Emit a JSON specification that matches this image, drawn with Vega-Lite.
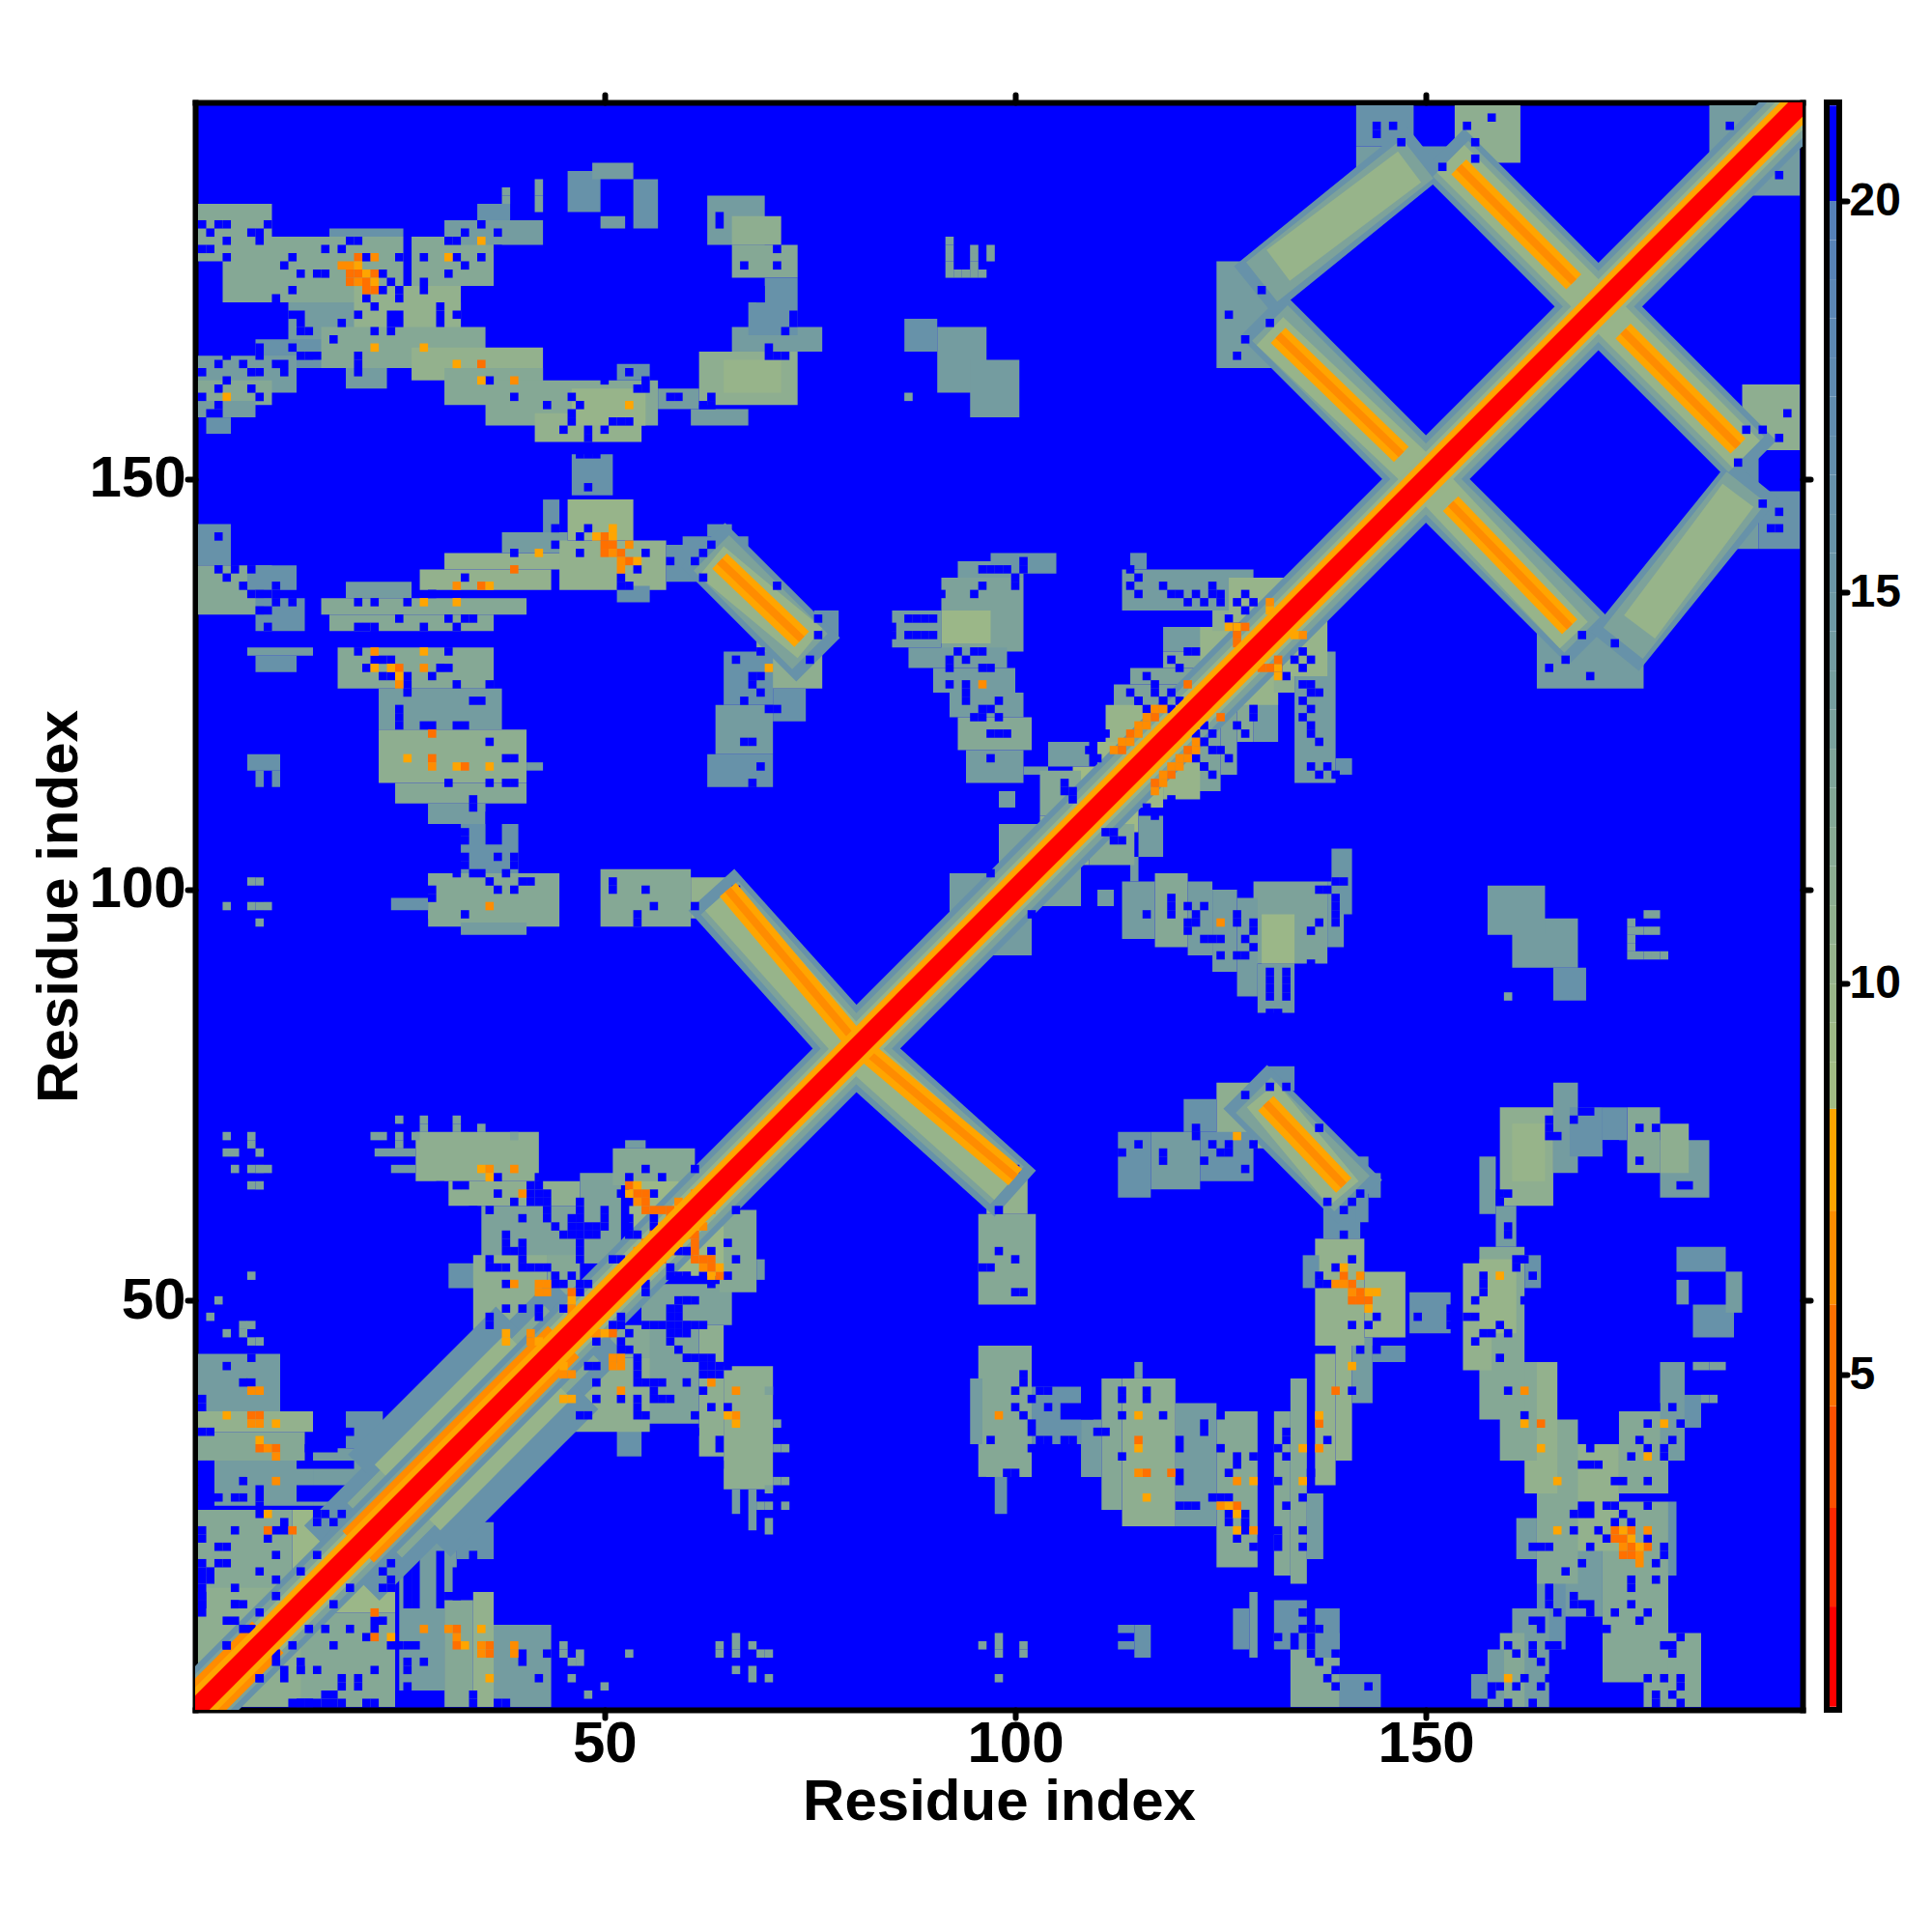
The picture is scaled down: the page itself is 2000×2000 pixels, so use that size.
{"$schema":"https://vega.github.io/schema/vega-lite/v6.json","padding":{"left":31,"top":95,"right":0,"bottom":0},"background":"white","spacing":11,
"config":{"axis":{"grid":false,"domainColor":"black","domainWidth":6,"domainCap":"square","tickColor":"black","tickWidth":6,"tickSize":8,"tickCap":"round","zindex":1,"labelFont":"Liberation Sans","labelFontWeight":"bold","labelFontSize":60,"labelColor":"black","titleFont":"Liberation Sans","titleFontWeight":"bold","titleFontSize":60,"titleColor":"black"}},
"datasets":{
"blocks":[
{"x":0.5,"x2":4.5,"y":139.5,"y2":144.5,"v":16},{"x":0.5,"x2":9.5,"y":133.5,"y2":139.5,"v":12},{"x":6.5,"x2":12.5,"y":136.5,"y2":139.5,"v":16},{"x":7.5,"x2":13.5,"y":131.5,"y2":135.5,"v":16},{"x":6.5,"x2":14.5,"y":128.5,"y2":129.5,"v":14},{"x":7.5,"x2":12.5,"y":126.5,"y2":128.5,"v":16},
{"x":18.5,"x2":26.5,"y":135.5,"y2":137.5,"v":14},{"x":15.5,"x2":40.5,"y":133.5,"y2":135.5,"v":12},{"x":16.5,"x2":36.5,"y":131.5,"y2":133.5,"v":12},{"x":27.5,"x2":43.5,"y":136.5,"y2":139,"v":10.5},{"x":30.5,"x2":50.5,"y":139,"y2":141,"v":10.5},{"x":37.5,"x2":45.5,"y":141,"y2":143.5,"v":14},{"x":42.5,"x2":44.5,"y":143.5,"y2":147.5,"v":16},{"x":45.5,"x2":53.5,"y":142.5,"y2":147.5,"v":10},{"x":44.5,"x2":57.5,"y":136.5,"y2":142.5,"v":10.5},{"x":51.5,"x2":55.5,"y":135,"y2":137,"v":16},{"x":57.5,"x2":63.5,"y":137.5,"y2":142,"v":16},{"x":59.5,"x2":67.5,"y":141.5,"y2":143,"v":16},{"x":62.5,"x2":65.5,"y":143,"y2":144.5,"v":16},
{"x":68.5,"x2":76.5,"y":124.5,"y2":131,"v":11},{"x":64.5,"x2":70.5,"y":122.5,"y2":129,"v":16},{"x":70.5,"x2":74.5,"y":120.5,"y2":124.5,"v":16},{"x":63.5,"x2":70.5,"y":116.5,"y2":122.5,"v":14},{"x":62.5,"x2":70.5,"y":112.5,"y2":116.5,"v":16},{"x":75.5,"x2":78.5,"y":130.5,"y2":134,"v":16},
{"x":17.5,"x2":36.5,"y":124.5,"y2":129.5,"v":12},{"x":22.5,"x2":37.5,"y":119.5,"y2":124.5,"v":14},{"x":22.5,"x2":40.5,"y":113,"y2":119.5,"v":11},{"x":40.5,"x2":42.5,"y":114.5,"y2":115.5,"v":14},{"x":24.5,"x2":40.5,"y":110.5,"y2":113,"v":12},{"x":28.5,"x2":35.5,"y":108,"y2":110.5,"v":14},{"x":32.5,"x2":39.5,"y":101.5,"y2":108,"v":16},{"x":28.5,"x2":44.5,"y":95.5,"y2":102,"v":12},{"x":32.5,"x2":40.5,"y":94.5,"y2":96,"v":14},{"x":24,"x2":28.5,"y":97.5,"y2":99,"v":16},{"x":49.5,"x2":60.5,"y":95.5,"y2":102.5,"v":12},{"x":60.5,"x2":65,"y":96.5,"y2":101.5,"v":10.5},
{"x":6.5,"x2":10.5,"y":114.5,"y2":116.5,"v":16},{"x":7.5,"x2":8.5,"y":112.5,"y2":114.5,"v":16},{"x":9.5,"x2":10.5,"y":112.5,"y2":114.5,"v":16},
{"x":0.5,"x2":9.5,"y":179.5,"y2":183.5,"v":12},{"x":0.5,"x2":12.5,"y":176.5,"y2":179.5,"v":12},{"x":3.5,"x2":25.5,"y":171.5,"y2":179.5,"v":12},{"x":16.5,"x2":25.5,"y":179.5,"y2":180.5,"v":16},{"x":26.5,"x2":36.5,"y":173.5,"y2":179.5,"v":12},{"x":30.5,"x2":42.5,"y":178.5,"y2":181.5,"v":14},{"x":11.5,"x2":32.5,"y":166,"y2":171.5,"v":14},{"x":19.5,"x2":32.5,"y":166,"y2":173.5,"v":10.5},{"x":7.5,"x2":17.5,"y":163.5,"y2":167,"v":16},{"x":15.5,"x2":35.5,"y":163.5,"y2":168.5,"v":12},{"x":0.5,"x2":12.5,"y":160.5,"y2":165,"v":14},{"x":0.5,"x2":9.5,"y":159,"y2":162,"v":12},{"x":0.5,"x2":7.5,"y":157.5,"y2":159.5,"v":14},{"x":1.5,"x2":4.5,"y":155.5,"y2":157.5,"v":16},{"x":18.5,"x2":23.5,"y":161,"y2":163.5,"v":14},{"x":26.5,"x2":42.5,"y":162,"y2":166,"v":10.5},{"x":30.5,"x2":42.5,"y":159,"y2":163.5,"v":12},{"x":35.5,"x2":56.5,"y":156.5,"y2":162,"v":12},{"x":41.5,"x2":54.5,"y":154.5,"y2":158,"v":10.5},{"x":46,"x2":55,"y":156.5,"y2":161,"v":10},{"x":51.5,"x2":55.5,"y":162,"y2":164,"v":16},{"x":56.5,"x2":61.5,"y":158.5,"y2":161,"v":14},{"x":60.5,"x2":67.5,"y":156.5,"y2":158.5,"v":14},{"x":61.5,"x2":73.5,"y":159,"y2":165.5,"v":11},{"x":64.5,"x2":71.5,"y":160.5,"y2":164.5,"v":10},{"x":65.5,"x2":76.5,"y":165.5,"y2":168.5,"v":14},{"x":67.5,"x2":73.5,"y":167.5,"y2":171.5,"v":16},{"x":65.5,"x2":73.5,"y":174.5,"y2":178.5,"v":12},{"x":69.5,"x2":73.5,"y":171.5,"y2":174.5,"v":16},{"x":62.5,"x2":69.5,"y":178.5,"y2":184.5,"v":14},{"x":65.5,"x2":71.5,"y":178.5,"y2":182,"v":11},
{"x":45.5,"x2":49.5,"y":182.5,"y2":187.5,"v":16},{"x":48.5,"x2":53.5,"y":186.5,"y2":188.5,"v":14},{"x":53.5,"x2":56.5,"y":180.5,"y2":186.5,"v":16},{"x":49.5,"x2":52.5,"y":180.5,"y2":182,"v":14},{"x":46,"x2":51,"y":148,"y2":153,"v":16},{"x":34.5,"x2":38.5,"y":181.5,"y2":183.5,"v":16},
{"x":86.5,"x2":90.5,"y":165.5,"y2":169.5,"v":16},{"x":90.5,"x2":96.5,"y":160.5,"y2":168.5,"v":14},{"x":94.5,"x2":100.5,"y":157.5,"y2":164.5,"v":14},
{"x":91,"x2":101,"y":129,"y2":138,"v":13},{"x":91,"x2":97,"y":130,"y2":134,"v":9.5},{"x":85,"x2":91,"y":129.5,"y2":134,"v":14},{"x":93,"x2":101,"y":138,"y2":140,"v":14},{"x":97,"x2":105,"y":138.5,"y2":141,"v":15},{"x":87,"x2":99,"y":127,"y2":129.5,"v":14},{"x":90,"x2":100,"y":124,"y2":127,"v":14},{"x":92,"x2":101,"y":121,"y2":124,"v":14},{"x":93,"x2":102,"y":117,"y2":121,"v":12},{"x":94,"x2":101,"y":113,"y2":117,"v":14},{"x":101,"x2":104,"y":114,"y2":115,"v":14},
{"x":112,"x2":120,"y":122,"y2":125,"v":13},{"x":111,"x2":118,"y":118,"y2":122.5,"v":10},{"x":110,"x2":115,"y":115,"y2":118,"v":9.5},{"x":107,"x2":112,"y":111,"y2":115,"v":9},{"x":103,"x2":108,"y":109,"y2":114.5,"v":12},{"x":104,"x2":109,"y":115,"y2":118,"v":14},{"x":103,"x2":107,"y":106,"y2":109,"v":11},{"x":98,"x2":103,"y":102,"y2":108,"v":13},{"x":98,"x2":100,"y":110,"y2":112,"v":14},{"x":92,"x2":99,"y":97,"y2":102,"v":14},
{"x":118,"x2":126,"y":129,"y2":132,"v":14},{"x":114,"x2":124,"y":125,"y2":127,"v":13},{"x":118,"x2":126,"y":127,"y2":129,"v":12},{"x":122.5,"x2":127,"y":126,"y2":132,"v":10},{"x":113,"x2":129,"y":134,"y2":139,"v":14},{"x":124,"x2":131,"y":131.5,"y2":134,"v":11},{"x":126,"x2":134,"y":132,"y2":138,"v":10},{"x":114,"x2":116,"y":139,"y2":141,"v":16},
{"x":124.5,"x2":132.5,"y":163.5,"y2":176.5,"v":14},{"x":141.5,"x2":148.5,"y":190.5,"y2":195.5,"v":16},{"x":141.5,"x2":149.5,"y":186.5,"y2":190.5,"v":14},{"x":148.5,"x2":153.5,"y":186.5,"y2":190.5,"v":16},{"x":153.5,"x2":161.5,"y":188.5,"y2":195.5,"v":11},{"x":184.5,"x2":195.5,"y":186,"y2":195.5,"v":14},
{"x":0.5,"x2":10.5,"y":36,"y2":43.5,"v":14},{"x":0.5,"x2":14.5,"y":34,"y2":36.5,"v":10.5},{"x":0.5,"x2":13.5,"y":30.5,"y2":34,"v":12},{"x":2.5,"x2":14.5,"y":25,"y2":30.5,"v":14},{"x":14.5,"x2":23,"y":25,"y2":32,"v":14},{"x":0.5,"x2":12,"y":13,"y2":24.5,"v":12},{"x":12,"x2":20,"y":17,"y2":24.5,"v":9.5},{"x":18.5,"x2":23,"y":32,"y2":36.5,"v":16},{"x":0.5,"x2":15,"y":0.5,"y2":13,"v":11},
{"x":27,"x2":42,"y":64.5,"y2":70.5,"v":11},{"x":22,"x2":27,"y":67.5,"y2":68.5,"v":14},{"x":24,"x2":27,"y":65.5,"y2":66.5,"v":14},{"x":31,"x2":47,"y":61.5,"y2":64.5,"v":11},{"x":35,"x2":51,"y":54.5,"y2":61.5,"v":13},{"x":47,"x2":52,"y":54.5,"y2":65.5,"v":13},{"x":51,"x2":61,"y":64,"y2":68.5,"v":12},{"x":52.5,"x2":55,"y":68.5,"y2":69.5,"v":14},{"x":53,"x2":59,"y":56,"y2":64.5,"v":9.5},{"x":31,"x2":35,"y":51.5,"y2":54.5,"v":16},{"x":34,"x2":43,"y":43.5,"y2":55.5,"v":11},{"x":43,"x2":47,"y":43,"y2":55.5,"v":12},
{"x":12.5,"x2":19.5,"y":29.5,"y2":30.5,"v":21},{"x":13.5,"x2":17.5,"y":31.5,"y2":32.5,"v":21},{"x":12.5,"x2":19.5,"y":26.5,"y2":27.5,"v":21},{"x":12.5,"x2":17.5,"y":25.5,"y2":26.5,"v":21},{"x":35.5,"x2":37.5,"y":105.5,"y2":109.5,"v":21}],
"cells":[
{"x":7,"y":43,"v":21},{"x":4,"y":42,"v":21},{"x":6,"y":40,"v":21},{"x":7,"y":40,"v":21},{"x":1,"y":37,"v":21},{"x":1,"y":38,"v":21},{"x":1,"y":34,"v":21},{"x":2,"y":34,"v":21},{"x":18,"y":34,"v":21},{"x":19,"y":34,"v":21},{"x":1,"y":30,"v":21},{"x":2,"y":30,"v":21},{"x":1,"y":29,"v":21},{"x":1,"y":28,"v":21},{"x":1,"y":27,"v":21},{"x":6,"y":28,"v":21},{"x":1,"y":26,"v":21},{"x":2,"y":26,"v":21},{"x":3,"y":26,"v":21},{"x":1,"y":25,"v":21},{"x":2,"y":25,"v":21},{"x":5,"y":26,"v":21},{"x":6,"y":26,"v":21},{"x":8,"y":24,"v":21},{"x":8,"y":25,"v":21},{"x":8,"y":26,"v":21},{"x":8,"y":27,"v":21},{"x":15,"y":24,"v":21},{"x":16,"y":24,"v":21},{"x":18,"y":24,"v":21},{"x":1,"y":21,"v":21},{"x":1,"y":22,"v":21},{"x":5,"y":22,"v":21},{"x":9,"y":21,"v":21},{"x":10,"y":22,"v":21},{"x":11,"y":22,"v":21},{"x":11,"y":23,"v":21},{"x":15,"y":23,"v":21},{"x":17,"y":23,"v":21},{"x":3,"y":20,"v":21},{"x":4,"y":20,"v":21},{"x":10,"y":19,"v":21},{"x":15,"y":19,"v":21},{"x":1,"y":18,"v":21},{"x":1,"y":17,"v":21},{"x":2,"y":17,"v":21},{"x":8,"y":17,"v":21},{"x":10,"y":16,"v":21},{"x":13,"y":17,"v":21},{"x":1,"y":15,"v":21},{"x":1,"y":14,"v":21},{"x":1,"y":13,"v":21},{"x":5,"y":15,"v":21},{"x":5,"y":13,"v":21},{"x":6,"y":13,"v":21},
{"x":11,"y":5,"v":21},{"x":11,"y":4,"v":21},{"x":13,"y":5,"v":21},{"x":18,"y":3,"v":21},{"x":18,"y":4,"v":21},{"x":16,"y":1,"v":21},{"x":16,"y":2,"v":21},{"x":12,"y":1,"v":21},{"x":13,"y":1,"v":21},{"x":14,"y":1,"v":21},{"x":8,"y":4,"v":21},{"x":14,"y":10,"v":21},{"x":12,"y":8,"v":21},{"x":10,"y":6,"v":21},{"x":7,"y":10,"v":21},{"x":4,"y":8,"v":21},
{"x":3,"y":143,"v":21},{"x":3,"y":139,"v":21},{"x":5,"y":139,"v":21},{"x":7,"y":139,"v":21},{"x":4,"y":138,"v":21},{"x":6,"y":137,"v":21},{"x":7,"y":136,"v":21},{"x":8,"y":136,"v":21},{"x":9,"y":136,"v":21},{"x":10,"y":137,"v":21},{"x":10,"y":135,"v":21},{"x":12,"y":135,"v":21},{"x":8,"y":134,"v":21},{"x":9,"y":134,"v":21},{"x":9,"y":132,"v":21},
{"x":20,"y":135,"v":21},{"x":22,"y":135,"v":21},{"x":26,"y":135,"v":21},{"x":29,"y":136,"v":21},{"x":22,"y":132,"v":21},{"x":22,"y":131,"v":21},{"x":21,"y":132,"v":21},{"x":20,"y":132,"v":21},{"x":25,"y":133,"v":21},{"x":28,"y":132,"v":21},{"x":31,"y":133,"v":21},{"x":33,"y":133,"v":21},{"x":34,"y":133,"v":21},{"x":32,"y":132,"v":21},{"x":33,"y":138,"v":21},{"x":39,"y":141,"v":21},{"x":44,"y":144,"v":21},{"x":44,"y":142,"v":21},{"x":47,"y":143,"v":21},{"x":48,"y":144,"v":21},{"x":47,"y":141,"v":21},{"x":55,"y":141,"v":21},{"x":58,"y":140,"v":21},{"x":61,"y":140,"v":21},{"x":62,"y":138,"v":21},{"x":63,"y":142,"v":21},{"x":62,"y":141,"v":21},{"x":54,"y":139,"v":21},{"x":52,"y":138,"v":21},{"x":52,"y":137,"v":21},{"x":53,"y":137,"v":21},
{"x":20,"y":129,"v":21},{"x":20,"y":130,"v":21},{"x":21,"y":130,"v":21},{"x":31,"y":129,"v":21},{"x":22,"y":128,"v":21},{"x":23,"y":128,"v":21},{"x":24,"y":128,"v":21},{"x":21,"y":127,"v":21},{"x":30,"y":127,"v":21},{"x":31,"y":127,"v":21},{"x":23,"y":126,"v":21},{"x":24,"y":126,"v":21},{"x":26,"y":125,"v":21},{"x":26,"y":126,"v":21},{"x":26,"y":124,"v":21},{"x":29,"y":126,"v":21},{"x":32,"y":125,"v":21},{"x":36,"y":125,"v":21},{"x":25,"y":122,"v":21},{"x":25,"y":121,"v":21},{"x":25,"y":120,"v":21},{"x":29,"y":120,"v":21},{"x":28,"y":120,"v":21},{"x":32,"y":120,"v":21},{"x":33,"y":120,"v":21},{"x":34,"y":123,"v":21},{"x":35,"y":123,"v":21},{"x":36,"y":118,"v":21},{"x":38,"y":116,"v":21},{"x":39,"y":116,"v":21},{"x":31,"y":113,"v":21},{"x":36,"y":113,"v":21},{"x":38,"y":113,"v":21},{"x":39,"y":113,"v":21},{"x":34,"y":111,"v":21},{"x":34,"y":110,"v":21},
{"x":33,"y":107,"v":21},{"x":33,"y":106,"v":21},{"x":33,"y":104,"v":21},{"x":33,"y":103,"v":21},{"x":37,"y":104,"v":21},{"x":39,"y":104,"v":21},{"x":39,"y":103,"v":21},{"x":32,"y":102,"v":21},{"x":34,"y":102,"v":21},{"x":35,"y":102,"v":21},{"x":38,"y":102,"v":21},{"x":36,"y":101,"v":21},{"x":41,"y":101,"v":21},{"x":40,"y":101,"v":21},{"x":37,"y":100,"v":21},{"x":39,"y":100,"v":21},{"x":29,"y":100,"v":21},{"x":29,"y":99,"v":21},{"x":33,"y":97,"v":21},{"x":28,"y":96,"v":21},{"x":51,"y":101,"v":21},{"x":51,"y":100,"v":21},{"x":55,"y":100,"v":21},{"x":56,"y":98,"v":21},{"x":54,"y":97,"v":21},{"x":54,"y":96,"v":21},{"x":61,"y":98,"v":21},{"x":66,"y":100,"v":21},
{"x":71,"y":137,"v":21},{"x":69,"y":129,"v":21},{"x":66,"y":128,"v":21},{"x":75,"y":128,"v":21},{"x":76,"y":133,"v":21},{"x":76,"y":131,"v":21},{"x":68,"y":126,"v":21},{"x":68,"y":125,"v":21},{"x":69,"y":126,"v":21},{"x":69,"y":124,"v":21},{"x":67,"y":123,"v":21},{"x":70,"y":122,"v":21},{"x":71,"y":122,"v":21},{"x":68,"y":118,"v":21},{"x":67,"y":118,"v":21},{"x":68,"y":113,"v":21},{"x":68,"y":112,"v":21},{"x":69,"y":115,"v":21},
{"x":1,"y":181,"v":21},{"x":3,"y":181,"v":21},{"x":4,"y":181,"v":21},{"x":2,"y":180,"v":21},{"x":4,"y":179,"v":21},{"x":7,"y":180,"v":21},{"x":8,"y":180,"v":21},{"x":8,"y":179,"v":21},{"x":9,"y":181,"v":21},{"x":1,"y":178,"v":21},{"x":2,"y":178,"v":21},{"x":4,"y":177,"v":21},{"x":11,"y":176,"v":21},{"x":12,"y":177,"v":21},{"x":13,"y":175,"v":21},{"x":15,"y":175,"v":21},{"x":16,"y":175,"v":21},{"x":16,"y":178,"v":21},{"x":18,"y":178,"v":21},{"x":20,"y":179,"v":21},{"x":19,"y":179,"v":21},{"x":21,"y":177,"v":21},{"x":23,"y":175,"v":21},{"x":25,"y":177,"v":21},{"x":28,"y":177,"v":21},{"x":32,"y":177,"v":21},{"x":33,"y":176,"v":21},{"x":35,"y":177,"v":21},{"x":31,"y":175,"v":21},{"x":32,"y":179,"v":21},{"x":31,"y":179,"v":21},{"x":33,"y":180,"v":21},{"x":35,"y":181,"v":21},{"x":37,"y":180,"v":21},{"x":37,"y":178,"v":21},
{"x":12,"y":173,"v":21},{"x":10,"y":172,"v":21},{"x":21,"y":172,"v":21},{"x":22,"y":171,"v":21},{"x":24,"y":174,"v":21},{"x":23,"y":173,"v":21},{"x":25,"y":173,"v":21},{"x":25,"y":172,"v":21},{"x":28,"y":174,"v":21},{"x":28,"y":173,"v":21},{"x":30,"y":171,"v":21},{"x":30,"y":170,"v":21},{"x":30,"y":169,"v":21},{"x":32,"y":170,"v":21},{"x":12,"y":170,"v":21},{"x":13,"y":170,"v":21},{"x":13,"y":169,"v":21},{"x":20,"y":170,"v":21},{"x":18,"y":169,"v":21},{"x":24,"y":170,"v":21},{"x":25,"y":170,"v":21},{"x":24,"y":169,"v":21},{"x":25,"y":169,"v":21},{"x":24,"y":168,"v":21},{"x":13,"y":168,"v":21},{"x":14,"y":168,"v":21},{"x":22,"y":168,"v":21},{"x":17,"y":167,"v":21},{"x":12,"y":166,"v":21},{"x":8,"y":165,"v":21},{"x":8,"y":166,"v":21},{"x":13,"y":165,"v":21},{"x":14,"y":165,"v":21},{"x":15,"y":165,"v":21},{"x":20,"y":165,"v":21},{"x":20,"y":164,"v":21},{"x":20,"y":163,"v":21},{"x":3,"y":164,"v":21},{"x":6,"y":164,"v":21},{"x":10,"y":164,"v":21},{"x":11,"y":164,"v":21},{"x":4,"y":165,"v":21},{"x":7,"y":163,"v":21},{"x":8,"y":163,"v":21},{"x":11,"y":163,"v":21},{"x":1,"y":163,"v":21},{"x":4,"y":162,"v":21},{"x":3,"y":161,"v":21},{"x":7,"y":161,"v":21},{"x":1,"y":160,"v":21},{"x":8,"y":160,"v":21},{"x":2,"y":158,"v":21},{"x":3,"y":158,"v":21},{"x":3,"y":159,"v":21},
{"x":36,"y":162,"v":21},{"x":39,"y":160,"v":21},{"x":43,"y":159,"v":21},{"x":46,"y":160,"v":21},{"x":47,"y":159,"v":21},{"x":46,"y":158,"v":21},{"x":46,"y":157,"v":21},{"x":52,"y":157,"v":21},{"x":51,"y":157,"v":21},{"x":53,"y":157,"v":21},{"x":48,"y":156,"v":21},{"x":48,"y":155,"v":21},{"x":50,"y":156,"v":21},{"x":45,"y":156,"v":21},{"x":50,"y":162,"v":21},{"x":53,"y":163,"v":21},{"x":55,"y":162,"v":21},{"x":55,"y":161,"v":21},{"x":54,"y":161,"v":21},{"x":59,"y":160,"v":21},{"x":58,"y":160,"v":21},{"x":63,"y":160,"v":21},{"x":62,"y":159,"v":21},{"x":63,"y":159,"v":21},{"x":64,"y":181,"v":21},{"x":64,"y":182,"v":21},{"x":67,"y":176,"v":21},{"x":71,"y":176,"v":21},{"x":71,"y":178,"v":21},{"x":69,"y":173,"v":21},{"x":69,"y":172,"v":21},{"x":73,"y":170,"v":21},{"x":73,"y":169,"v":21},{"x":72,"y":168,"v":21},{"x":70,"y":166,"v":21},{"x":70,"y":165,"v":21},{"x":71,"y":165,"v":21},{"x":72,"y":165,"v":21},{"x":48,"y":153,"v":21},{"x":47,"y":153,"v":21},{"x":49,"y":153,"v":21},{"x":48,"y":149,"v":21},
{"x":37,"y":65,"v":21},{"x":42,"y":65,"v":21},{"x":41,"y":64,"v":21},{"x":42,"y":64,"v":21},{"x":41,"y":63,"v":21},{"x":42,"y":63,"v":21},{"x":43,"y":63,"v":21},{"x":41,"y":62,"v":21},{"x":42,"y":62,"v":21},{"x":43,"y":62,"v":21},{"x":43,"y":61,"v":21},{"x":43,"y":60,"v":21},{"x":32,"y":64,"v":21},{"x":33,"y":64,"v":21},{"x":30,"y":64,"v":21},{"x":37,"y":63,"v":21},{"x":39,"y":62,"v":21},{"x":34,"y":61,"v":21},{"x":36,"y":61,"v":21},{"x":40,"y":60,"v":21},{"x":44,"y":59,"v":21},{"x":38,"y":57,"v":21},{"x":38,"y":58,"v":21},{"x":38,"y":56,"v":21},{"x":40,"y":57,"v":21},{"x":39,"y":56,"v":21},{"x":40,"y":56,"v":21},{"x":47,"y":61,"v":21},{"x":47,"y":62,"v":21},{"x":47,"y":60,"v":21},{"x":46,"y":60,"v":21},{"x":47,"y":59,"v":21},{"x":46,"y":59,"v":21},{"x":47,"y":58,"v":21},{"x":46,"y":58,"v":21},{"x":48,"y":59,"v":21},{"x":49,"y":59,"v":21},{"x":47,"y":57,"v":21},{"x":48,"y":58,"v":21},{"x":45,"y":58,"v":21},{"x":49,"y":58,"v":21},{"x":47,"y":56,"v":21},{"x":47,"y":55,"v":21},{"x":50,"y":61,"v":21},{"x":50,"y":60,"v":21},{"x":50,"y":59,"v":21},{"x":36,"y":55,"v":21},{"x":36,"y":54,"v":21},{"x":37,"y":54,"v":21},{"x":38,"y":54,"v":21},{"x":40,"y":55,"v":21},{"x":40,"y":54,"v":21},{"x":41,"y":54,"v":21},{"x":42,"y":54,"v":21},{"x":43,"y":54,"v":21},{"x":44,"y":53,"v":21},{"x":44,"y":52,"v":21},{"x":45,"y":52,"v":21},{"x":46,"y":53,"v":21},{"x":47,"y":52,"v":21},{"x":47,"y":51,"v":21},{"x":48,"y":52,"v":21},{"x":38,"y":52,"v":21},{"x":51,"y":55,"v":21},{"x":52,"y":55,"v":21},{"x":53,"y":65,"v":21},{"x":55,"y":66,"v":21},{"x":57,"y":65,"v":21},{"x":61,"y":66,"v":21},{"x":52,"y":63,"v":21},{"x":56,"y":63,"v":21},{"x":53,"y":62,"v":21},{"x":56,"y":60,"v":21},{"x":56,"y":59,"v":21},{"x":53,"y":60,"v":21},{"x":53,"y":59,"v":21},{"x":54,"y":58,"v":21},{"x":53,"y":58,"v":21},{"x":38,"y":49,"v":21},{"x":40,"y":49,"v":21},{"x":42,"y":49,"v":21},{"x":42,"y":48,"v":21},{"x":45,"y":49,"v":21},{"x":36,"y":48,"v":21},{"x":36,"y":47,"v":21},
{"x":91,"y":136,"v":21},{"x":95,"y":136,"v":21},{"x":96,"y":137,"v":21},{"x":100,"y":138,"v":21},{"x":100,"y":137,"v":21},{"x":101,"y":140,"v":21},{"x":101,"y":139,"v":21},{"x":96,"y":139,"v":21},{"x":97,"y":139,"v":21},{"x":98,"y":139,"v":21},{"x":99,"y":139,"v":21},{"x":87,"y":133,"v":21},{"x":88,"y":133,"v":21},{"x":89,"y":133,"v":21},{"x":90,"y":133,"v":21},{"x":87,"y":131,"v":21},{"x":88,"y":131,"v":21},{"x":89,"y":131,"v":21},{"x":90,"y":131,"v":21},{"x":85,"y":132,"v":21},{"x":85,"y":131,"v":21},{"x":93,"y":129,"v":21},{"x":94,"y":128,"v":21},{"x":95,"y":129,"v":21},{"x":96,"y":129,"v":21},{"x":92,"y":128,"v":21},{"x":92,"y":127,"v":21},{"x":96,"y":127,"v":21},{"x":97,"y":127,"v":21},{"x":92,"y":125,"v":21},{"x":94,"y":125,"v":21},{"x":94,"y":124,"v":21},{"x":94,"y":123,"v":21},{"x":98,"y":123,"v":21},{"x":96,"y":122,"v":21},{"x":97,"y":122,"v":21},{"x":95,"y":121,"v":21},{"x":96,"y":121,"v":21},{"x":98,"y":121,"v":21},{"x":97,"y":119,"v":21},{"x":98,"y":119,"v":21},{"x":99,"y":119,"v":21},{"x":97,"y":116,"v":21},
{"x":114,"y":124,"v":21},{"x":115,"y":123,"v":21},{"x":117,"y":124,"v":21},{"x":119,"y":124,"v":21},{"x":118,"y":123,"v":21},{"x":110,"y":120,"v":21},{"x":109,"y":117,"v":21},{"x":116,"y":126,"v":21},{"x":119,"y":128,"v":21},{"x":106,"y":113,"v":21},{"x":106,"y":112,"v":21},{"x":116,"y":110,"v":21},{"x":119,"y":111,"v":21},{"x":112,"y":107,"v":21},{"x":111,"y":107,"v":21},{"x":97,"y":102,"v":21},{"x":114,"y":139,"v":21},{"x":114,"y":137,"v":21},{"x":118,"y":137,"v":21},{"x":120,"y":136,"v":21},{"x":122,"y":136,"v":21},{"x":124,"y":137,"v":21},{"x":124,"y":136,"v":21},{"x":128,"y":136,"v":21},{"x":127,"y":135,"v":21},{"x":126,"y":133,"v":21},{"x":127,"y":132,"v":21},{"x":128,"y":134,"v":21},{"x":129,"y":135,"v":21},{"x":125,"y":135,"v":21},{"x":125,"y":136,"v":21},{"x":123,"y":135,"v":21},{"x":121,"y":135,"v":21},{"x":119,"y":136,"v":21},{"x":115,"y":136,"v":21},{"x":115,"y":138,"v":21},{"x":122,"y":129,"v":21},{"x":121,"y":129,"v":21},{"x":120,"y":127,"v":21},{"x":120,"y":123,"v":21},{"x":119,"y":122,"v":21},{"x":118,"y":123,"v":21},{"x":117,"y":125,"v":21},{"x":116,"y":122,"v":21},{"x":115,"y":123,"v":21},
{"x":126,"y":170,"v":21},{"x":128,"y":167,"v":21},{"x":130,"y":173,"v":21},{"x":127,"y":165,"v":21},{"x":131,"y":169,"v":21},{"x":144,"y":193,"v":21},{"x":144,"y":192,"v":21},{"x":147,"y":191,"v":21},{"x":146,"y":193,"v":21},{"x":155,"y":193,"v":21},{"x":158,"y":194,"v":21},{"x":156,"y":191,"v":21},{"x":156,"y":189,"v":21},{"x":152,"y":188,"v":21},{"x":190,"y":189,"v":21},{"x":193,"y":187,"v":21},
{"x":25,"y":72,"v":13},{"x":28,"y":72,"v":13},{"x":28,"y":71,"v":13},{"x":32,"y":72,"v":13},{"x":32,"y":71,"v":13},{"x":35,"y":71,"v":13},{"x":39,"y":70,"v":13},{"x":22,"y":70,"v":13},{"x":23,"y":70,"v":13},{"x":25,"y":70,"v":13},{"x":25,"y":69,"v":13},{"x":27,"y":70,"v":13},
{"x":87,"y":160,"v":13},{"x":92,"y":175,"v":13},{"x":92,"y":176,"v":13},{"x":92,"y":177,"v":13},{"x":92,"y":178,"v":13},{"x":92,"y":179,"v":13},{"x":93,"y":175,"v":13},{"x":94,"y":175,"v":13},{"x":95,"y":175,"v":13},{"x":96,"y":175,"v":13},{"x":95,"y":177,"v":13},{"x":95,"y":178,"v":13},{"x":95,"y":176,"v":13},{"x":97,"y":178,"v":13},{"x":97,"y":177,"v":13},
{"x":4,"y":68,"v":13},{"x":5,"y":68,"v":13},{"x":7,"y":69,"v":13},{"x":8,"y":68,"v":13},{"x":7,"y":66,"v":13},{"x":8,"y":66,"v":13},{"x":9,"y":66,"v":13},{"x":7,"y":64,"v":13},{"x":8,"y":64,"v":13},{"x":4,"y":70,"v":13},{"x":7,"y":70,"v":13},{"x":5,"y":66,"v":13},{"x":7,"y":101,"v":13},{"x":8,"y":101,"v":13},{"x":7,"y":98,"v":13},{"x":8,"y":98,"v":13},{"x":9,"y":98,"v":13},{"x":8,"y":96,"v":13},{"x":4,"y":98,"v":13},{"x":7,"y":53,"v":13},{"x":3,"y":50,"v":13},{"x":2,"y":48,"v":13},{"x":4,"y":46,"v":13},{"x":6,"y":47,"v":13},{"x":7,"y":47,"v":13},{"x":6,"y":46,"v":13},{"x":7,"y":45,"v":13},{"x":8,"y":45,"v":13},{"x":42,"y":186,"v":13},{"x":42,"y":185,"v":13},{"x":42,"y":184,"v":13},{"x":42,"y":183,"v":13},{"x":38,"y":185,"v":13},{"x":38,"y":184,"v":13},
{"x":20,"y":177,"v":5.5},{"x":22,"y":177,"v":7},{"x":18,"y":176,"v":6.5},{"x":19,"y":176,"v":6},{"x":20,"y":176,"v":7.5},{"x":19,"y":175,"v":5.5},{"x":20,"y":175,"v":5.5},{"x":21,"y":175,"v":7.5},{"x":22,"y":175,"v":5.5},{"x":19,"y":174,"v":5},{"x":20,"y":174,"v":6.5},{"x":21,"y":174,"v":5.5},{"x":22,"y":174,"v":7.5},{"x":21,"y":173,"v":5},{"x":22,"y":173,"v":5},{"x":35,"y":179,"v":7.5},{"x":31,"y":177,"v":7.5},{"x":22,"y":166,"v":7.5},{"x":28,"y":166,"v":7.5},{"x":32,"y":164,"v":7.5},{"x":35,"y":164,"v":5.5},{"x":35,"y":162,"v":7.5},{"x":39,"y":162,"v":6.5},{"x":4,"y":160,"v":7.5},{"x":53,"y":159,"v":7.5},
{"x":39,"y":139,"v":5.5},{"x":42,"y":141,"v":7.5},{"x":32,"y":137,"v":6.5},{"x":35,"y":137,"v":5.5},{"x":36,"y":137,"v":7.5},{"x":28,"y":135,"v":7.5},{"x":32,"y":135,"v":7.5},{"x":22,"y":129,"v":6},{"x":28,"y":129,"v":7.5},{"x":22,"y":127,"v":7.5},{"x":24,"y":127,"v":7.5},{"x":25,"y":127,"v":5.5},{"x":28,"y":127,"v":6.5},{"x":25,"y":125,"v":6.5},{"x":25,"y":126,"v":7.5},{"x":29,"y":119,"v":5.5},{"x":26,"y":116,"v":7.5},{"x":29,"y":116,"v":5.5},{"x":29,"y":115,"v":6.5},{"x":32,"y":115,"v":7.5},{"x":33,"y":115,"v":5.5},{"x":36,"y":115,"v":7.5},{"x":36,"y":98,"v":6.5},{"x":70,"y":127,"v":7.5},
{"x":51,"y":144,"v":7.5},{"x":50,"y":143,"v":5.5},{"x":49,"y":143,"v":7.5},{"x":51,"y":143,"v":7.5},{"x":50,"y":142,"v":5.5},{"x":51,"y":142,"v":5.5},{"x":53,"y":142,"v":6},{"x":50,"y":141,"v":5.5},{"x":51,"y":141,"v":6},{"x":52,"y":141,"v":5.5},{"x":53,"y":140,"v":5},{"x":52,"y":140,"v":6},{"x":54,"y":140,"v":7.5},{"x":52,"y":139,"v":6.5},
{"x":7,"y":39,"v":6.5},{"x":8,"y":39,"v":7},{"x":4,"y":36,"v":7.5},{"x":7,"y":36,"v":5.5},{"x":8,"y":36,"v":5.5},{"x":7,"y":35,"v":6.5},{"x":8,"y":35,"v":6.5},{"x":10,"y":35,"v":7.5},{"x":8,"y":33,"v":7.5},{"x":8,"y":32,"v":5.5},{"x":9,"y":32,"v":7},{"x":10,"y":32,"v":5.5},{"x":10,"y":31,"v":6.5},{"x":10,"y":28,"v":6.5},{"x":9,"y":24,"v":7.5},{"x":9,"y":22,"v":5.5},{"x":12,"y":22,"v":5.5},{"x":38,"y":46,"v":7.5},{"x":41,"y":46,"v":6},{"x":41,"y":45,"v":6},{"x":42,"y":45,"v":7.5},
{"x":35,"y":66,"v":7.5},{"x":36,"y":66,"v":7},{"x":36,"y":65,"v":7.5},{"x":39,"y":66,"v":6},{"x":40,"y":63,"v":6.5},{"x":39,"y":52,"v":7},{"x":42,"y":52,"v":6},{"x":43,"y":52,"v":7},{"x":42,"y":51,"v":7},{"x":43,"y":51,"v":6.5},{"x":46,"y":51,"v":5.5},{"x":46,"y":50,"v":7.5},{"x":46,"y":49,"v":6},{"x":46,"y":48,"v":6},{"x":38,"y":45,"v":7.5},{"x":53,"y":64,"v":5.5},{"x":54,"y":64,"v":7.5},{"x":53,"y":63,"v":7.5},{"x":54,"y":63,"v":5.5},{"x":55,"y":63,"v":5.5},{"x":54,"y":62,"v":6.5},{"x":55,"y":62,"v":5.5},{"x":55,"y":61,"v":5.5},{"x":56,"y":61,"v":5.5},{"x":57,"y":61,"v":5.5},{"x":58,"y":61,"v":5.5},{"x":58,"y":60,"v":5.5},{"x":59,"y":62,"v":6},{"x":59,"y":61,"v":7.5},{"x":57,"y":59,"v":7.5},{"x":56,"y":58,"v":5.5},{"x":55,"y":57,"v":5.5},{"x":54,"y":56,"v":6.5},{"x":61,"y":63,"v":6.5},
{"x":96,"y":125,"v":6},{"x":121,"y":125,"v":5.5},{"x":126,"y":132,"v":7.5},{"x":127,"y":132,"v":7.5},{"x":128,"y":132,"v":5.5},{"x":127,"y":131,"v":5.5},{"x":127,"y":130,"v":5.5},{"x":131,"y":135,"v":7},{"x":131,"y":134,"v":7.5},{"x":117,"y":122,"v":6.5},{"x":118,"y":122,"v":6.5},{"x":116,"y":121,"v":6.5},{"x":117,"y":121,"v":5.5},{"x":115,"y":120,"v":6.5},{"x":116,"y":120,"v":6.5},{"x":114,"y":119,"v":5.5},{"x":115,"y":119,"v":6},{"x":113,"y":118,"v":6.5},{"x":114,"y":118,"v":6.5},{"x":112,"y":117,"v":6.5},{"x":113,"y":117,"v":5.5}],
"halo":[
{"x":63,"y":100,"x2":81,"y2":80,"v":16},{"x":100,"y":63,"x2":80,"y2":81,"v":16},{"x":130,"y":170,"x2":149,"y2":151,"v":16},{"x":170,"y":130,"x2":151,"y2":149,"v":16},{"x":152,"y":190,"x2":170,"y2":172,"v":16},{"x":190,"y":152,"x2":172,"y2":170,"v":16},{"x":129,"y":173,"x2":150,"y2":190,"v":16},{"x":173,"y":129,"x2":190,"y2":150,"v":16},{"x":62,"y":142,"x2":76,"y2":128,"v":16},{"x":142,"y":62,"x2":128,"y2":76,"v":16},{"x":0,"y":0,"x2":196,"y2":196,"v":16}],
"mid":[
{"x":64,"y":99,"x2":81,"y2":80,"v":13},{"x":99,"y":64,"x2":80,"y2":81,"v":13},{"x":131,"y":169,"x2":149,"y2":151,"v":13},{"x":169,"y":131,"x2":151,"y2":149,"v":13},{"x":153,"y":189,"x2":170,"y2":172,"v":13},{"x":189,"y":153,"x2":172,"y2":170,"v":13},{"x":130,"y":174,"x2":149,"y2":189,"v":13},{"x":174,"y":130,"x2":189,"y2":149,"v":13},{"x":63,"y":141,"x2":75,"y2":129,"v":13},{"x":141,"y":63,"x2":129,"y2":75,"v":13},{"x":0,"y":0,"x2":196,"y2":196,"v":13}],
"sage":[
{"x":64,"y":99,"x2":81,"y2":80,"v":10},{"x":99,"y":64,"x2":80,"y2":81,"v":10},{"x":131,"y":168,"x2":149,"y2":151,"v":10},{"x":168,"y":131,"x2":151,"y2":149,"v":10},{"x":153,"y":189,"x2":170,"y2":172,"v":10},{"x":189,"y":153,"x2":172,"y2":170,"v":10},{"x":132,"y":176,"x2":148,"y2":188,"v":10},{"x":176,"y":132,"x2":188,"y2":148,"v":10},{"x":63,"y":140,"x2":75,"y2":130,"v":10},{"x":140,"y":63,"x2":130,"y2":75,"v":10},{"x":0,"y":0,"x2":196,"y2":196,"v":10}],
"cores":[
{"x":65,"y":100,"x2":81,"y2":81,"v":7.6},{"x":100,"y":65,"x2":81,"y2":81,"v":7.6},{"x":132,"y":167.5,"x2":147,"y2":153,"v":7.6},{"x":167.5,"y":132,"x2":153,"y2":147,"v":7.6},{"x":154,"y":188,"x2":168,"y2":174,"v":7.6},{"x":188,"y":154,"x2":174,"y2":168,"v":7.6},{"x":64,"y":140,"x2":74,"y2":130.5,"v":7.6},{"x":140,"y":64,"x2":130.5,"y2":74,"v":7.6}],
"thin":[
{"x":65,"y":100,"x2":81,"y2":81,"v":6.5},{"x":100,"y":65,"x2":81,"y2":81,"v":6.5},{"x":132,"y":167.5,"x2":147,"y2":153,"v":6.5},{"x":167.5,"y":132,"x2":153,"y2":147,"v":6.5},{"x":154,"y":188,"x2":168,"y2":174,"v":6.5},{"x":188,"y":154,"x2":174,"y2":168,"v":6.5},{"x":64,"y":140,"x2":74,"y2":130.5,"v":6.5},{"x":140,"y":64,"x2":130.5,"y2":74,"v":6.5}],
"bar":[
{"lo":0.76,"hi":2.04,"v":1.5},{"lo":2.04,"hi":3.3,"v":2.7},{"lo":3.3,"hi":4.6,"v":4},{"lo":4.6,"hi":5.9,"v":5.2},{"lo":5.9,"hi":7.1,"v":6.5},{"lo":7.1,"hi":8.4,"v":7.6},{"lo":8.4,"hi":9,"v":8.7},{"lo":9,"hi":9.5,"v":9.25},{"lo":9.5,"hi":10,"v":9.75},{"lo":10,"hi":10.5,"v":10.25},{"lo":10.5,"hi":11,"v":10.75},{"lo":11,"hi":11.5,"v":11.25},{"lo":11.5,"hi":12,"v":11.75},{"lo":12,"hi":12.5,"v":12.25},{"lo":12.5,"hi":13,"v":12.75},{"lo":13,"hi":13.5,"v":13.25},{"lo":13.5,"hi":14,"v":13.75},{"lo":14,"hi":14.5,"v":14.25},{"lo":14.5,"hi":15,"v":14.75},{"lo":15,"hi":15.5,"v":15.25},{"lo":15.5,"hi":16,"v":15.75},{"lo":16,"hi":16.5,"v":16.25},{"lo":16.5,"hi":17,"v":16.75},{"lo":17,"hi":17.5,"v":17.25},{"lo":17.5,"hi":18,"v":17.75},{"lo":18,"hi":18.5,"v":18.25},{"lo":18.5,"hi":19,"v":18.75},{"lo":19,"hi":19.5,"v":19.25},{"lo":19.5,"hi":20,"v":19.75},{"lo":20,"hi":21.22,"v":20.5}]
},
"hconcat":[
{"width":1664,"height":1664,"view":{"fill":"#0000ff","stroke":null},
"encoding":{
"x":{"field":"x","type":"quantitative","scale":{"domain":[0.15,195.85],"nice":false,"zero":false},"axis":null},
"y":{"field":"y","type":"quantitative","scale":{"domain":[0.15,195.85],"nice":false,"zero":false},"axis":null},
"stroke":{"field":"v","type":"quantitative","scale":{"interpolate":"rgb","domain":[0.72,2.04,2.05,3.3,3.31,4.6,4.61,5.9,5.91,7.1,7.11,8.4,8.41,15,20,20.01,21.26],"range":["#ff0000","#ff0000","#ff2800","#ff2800","#ff5000","#ff5000","#ff7000","#ff7000","#ff8c00","#ff8c00","#ffa500","#ffa500","#a5be82","#6b96a5","#5580b9","#0000ff","#0000ff"]},"legend":null}
},
"layer":[
{"data":{"name":"blocks"},"mark":{"type":"rect","clip":true},"encoding":{"stroke":{"value":null},"x":{"field":"x","type":"quantitative","scale":{"domain":[0.15,195.85],"nice":false,"zero":false},"axis":{"orient":"bottom","values":[50,100,150],"title":"Residue index","titlePadding":1,"labelPadding":-2}},"y":{"field":"y","type":"quantitative","scale":{"domain":[0.15,195.85],"nice":false,"zero":false},"axis":{"orient":"left","values":[50,100,150],"title":"Residue index","titlePadding":-1,"labelPadding":2}},"x2":{"field":"x2"},"y2":{"field":"y2"},
"fill":{"field":"v","type":"quantitative","scale":{"interpolate":"rgb","domain":[0.72,2.04,2.05,3.3,3.31,4.6,4.61,5.9,5.91,7.1,7.11,8.4,8.41,15,20,20.01,21.26],"range":["#ff0000","#ff0000","#ff2800","#ff2800","#ff5000","#ff5000","#ff7000","#ff7000","#ff8c00","#ff8c00","#ffa500","#ffa500","#a5be82","#6b96a5","#5580b9","#0000ff","#0000ff"]},"legend":null}}},
{"data":{"name":"blocks"},"mark":{"type":"rect","clip":true},"encoding":{"stroke":{"value":null},"fill":{"field":"v","type":"quantitative","scale":{"interpolate":"rgb","domain":[0.72,2.04,2.05,3.3,3.31,4.6,4.61,5.9,5.91,7.1,7.11,8.4,8.41,15,20,20.01,21.26],"range":["#ff0000","#ff0000","#ff2800","#ff2800","#ff5000","#ff5000","#ff7000","#ff7000","#ff8c00","#ff8c00","#ffa500","#ffa500","#a5be82","#6b96a5","#5580b9","#0000ff","#0000ff"]},"legend":null},"x":{"field":"y","type":"quantitative","scale":{"domain":[0.15,195.85],"nice":false,"zero":false},"axis":null},"y":{"field":"x","type":"quantitative","scale":{"domain":[0.15,195.85],"nice":false,"zero":false},"axis":null},"x2":{"field":"y2"},"y2":{"field":"x2"}}},
{"data":{"values":[{"x":18,"y":18,"x2":48,"y2":48,"v":16}]},"mark":{"type":"rule","strokeWidth":110,"clip":true},"encoding":{"x2":{"field":"x2"},"y2":{"field":"y2"}}},
{"data":{"values":[{"x":25,"y":25,"x2":43,"y2":43,"v":16}]},"mark":{"type":"rule","strokeWidth":150,"clip":true},"encoding":{"x2":{"field":"x2"},"y2":{"field":"y2"}}},
{"data":{"values":[{"x":22,"y":22,"x2":46,"y2":46,"v":12}]},"mark":{"type":"rule","strokeWidth":80,"clip":true},"encoding":{"x2":{"field":"x2"},"y2":{"field":"y2"}}},
{"data":{"values":[{"x":26,"y":26,"x2":42,"y2":42,"v":10}]},"mark":{"type":"rule","strokeWidth":96,"clip":true},"encoding":{"x2":{"field":"x2"},"y2":{"field":"y2"}}},
{"data":{"name":"halo"},"mark":{"type":"rule","strokeWidth":64,"clip":true},"encoding":{"x2":{"field":"x2"},"y2":{"field":"y2"}}},
{"data":{"name":"mid"},"mark":{"type":"rule","strokeWidth":52,"clip":true},"encoding":{"x2":{"field":"x2"},"y2":{"field":"y2"}}},
{"data":{"name":"sage"},"mark":{"type":"rule","strokeWidth":40,"clip":true},"encoding":{"x2":{"field":"x2"},"y2":{"field":"y2"}}},
{"data":{"values":[{"x":20,"y":20,"x2":45,"y2":45,"v":6.5},{"x":0,"y":0,"x2":9,"y2":9,"v":6.5}]},"mark":{"type":"rule","strokeWidth":46,"clip":true},"encoding":{"x2":{"field":"x2"},"y2":{"field":"y2"}}},
{"data":{"name":"cells"},"mark":{"type":"rect","width":8.6,"height":8.6,"clip":true},"encoding":{"stroke":{"value":null},"fill":{"field":"v","type":"quantitative","scale":{"interpolate":"rgb","domain":[0.72,2.04,2.05,3.3,3.31,4.6,4.61,5.9,5.91,7.1,7.11,8.4,8.41,15,20,20.01,21.26],"range":["#ff0000","#ff0000","#ff2800","#ff2800","#ff5000","#ff5000","#ff7000","#ff7000","#ff8c00","#ff8c00","#ffa500","#ffa500","#a5be82","#6b96a5","#5580b9","#0000ff","#0000ff"]},"legend":null}}},
{"data":{"name":"cells"},"mark":{"type":"rect","width":8.6,"height":8.6,"clip":true},"encoding":{"stroke":{"value":null},"fill":{"field":"v","type":"quantitative","scale":{"interpolate":"rgb","domain":[0.72,2.04,2.05,3.3,3.31,4.6,4.61,5.9,5.91,7.1,7.11,8.4,8.41,15,20,20.01,21.26],"range":["#ff0000","#ff0000","#ff2800","#ff2800","#ff5000","#ff5000","#ff7000","#ff7000","#ff8c00","#ff8c00","#ffa500","#ffa500","#a5be82","#6b96a5","#5580b9","#0000ff","#0000ff"]},"legend":null},"x":{"field":"y","type":"quantitative","scale":{"domain":[0.15,195.85],"nice":false,"zero":false},"axis":null},"y":{"field":"x","type":"quantitative","scale":{"domain":[0.15,195.85],"nice":false,"zero":false},"axis":null}}},
{"data":{"name":"cores"},"mark":{"type":"rule","strokeWidth":22,"clip":true},"encoding":{"x2":{"field":"x2"},"y2":{"field":"y2"}}},
{"data":{"name":"thin"},"mark":{"type":"rule","strokeWidth":8,"clip":true},"encoding":{"x2":{"field":"x2"},"y2":{"field":"y2"}}},
{"data":{"values":[{"x":0,"y":0,"x2":196,"y2":196,"v":7.6}]},"mark":{"type":"rule","strokeWidth":33,"clip":true},"encoding":{"x2":{"field":"x2"},"y2":{"field":"y2"}}},
{"data":{"values":[{"x":0,"y":0,"x2":196,"y2":196,"v":1.5}]},"mark":{"type":"rule","strokeWidth":21,"clip":true},"encoding":{"x":{"field":"x","type":"quantitative","scale":{"domain":[0.15,195.85],"nice":false,"zero":false},"axis":{"orient":"top","values":[50,100,150],"title":null,"labels":false}},"y":{"field":"y","type":"quantitative","scale":{"domain":[0.15,195.85],"nice":false,"zero":false},"axis":{"orient":"right","values":[50,100,150],"title":null,"labels":false}},"x2":{"field":"x2"},"y2":{"field":"y2"}}}
],
"resolve":{"axis":{"x":"independent","y":"independent"}}},
{"width":13,"height":1664,"view":{"stroke":"black","strokeWidth":6},"data":{"name":"bar"},"mark":{"type":"rect"},
"encoding":{
"x":{"datum":3,"type":"quantitative","scale":{"domain":[0,13],"nice":false,"zero":false},"axis":null},
"x2":{"datum":10},
"y":{"field":"lo","type":"quantitative","scale":{"domain":[0.72,21.26],"nice":false,"zero":false},"axis":{"orient":"right","domain":false,"values":[5,10,15,20],"title":null,"labelFontSize":48,"labelPadding":2}},
"y2":{"field":"hi"},
"fill":{"field":"v","type":"quantitative","scale":{"interpolate":"rgb","domain":[0.72,2.04,2.05,3.3,3.31,4.6,4.61,5.9,5.91,7.1,7.11,8.4,8.41,15,20,20.01,21.26],"range":["#ff0000","#ff0000","#ff2800","#ff2800","#ff5000","#ff5000","#ff7000","#ff7000","#ff8c00","#ff8c00","#ffa500","#ffa500","#a5be82","#6b96a5","#5580b9","#0000ff","#0000ff"]},"legend":null}}}
]}
